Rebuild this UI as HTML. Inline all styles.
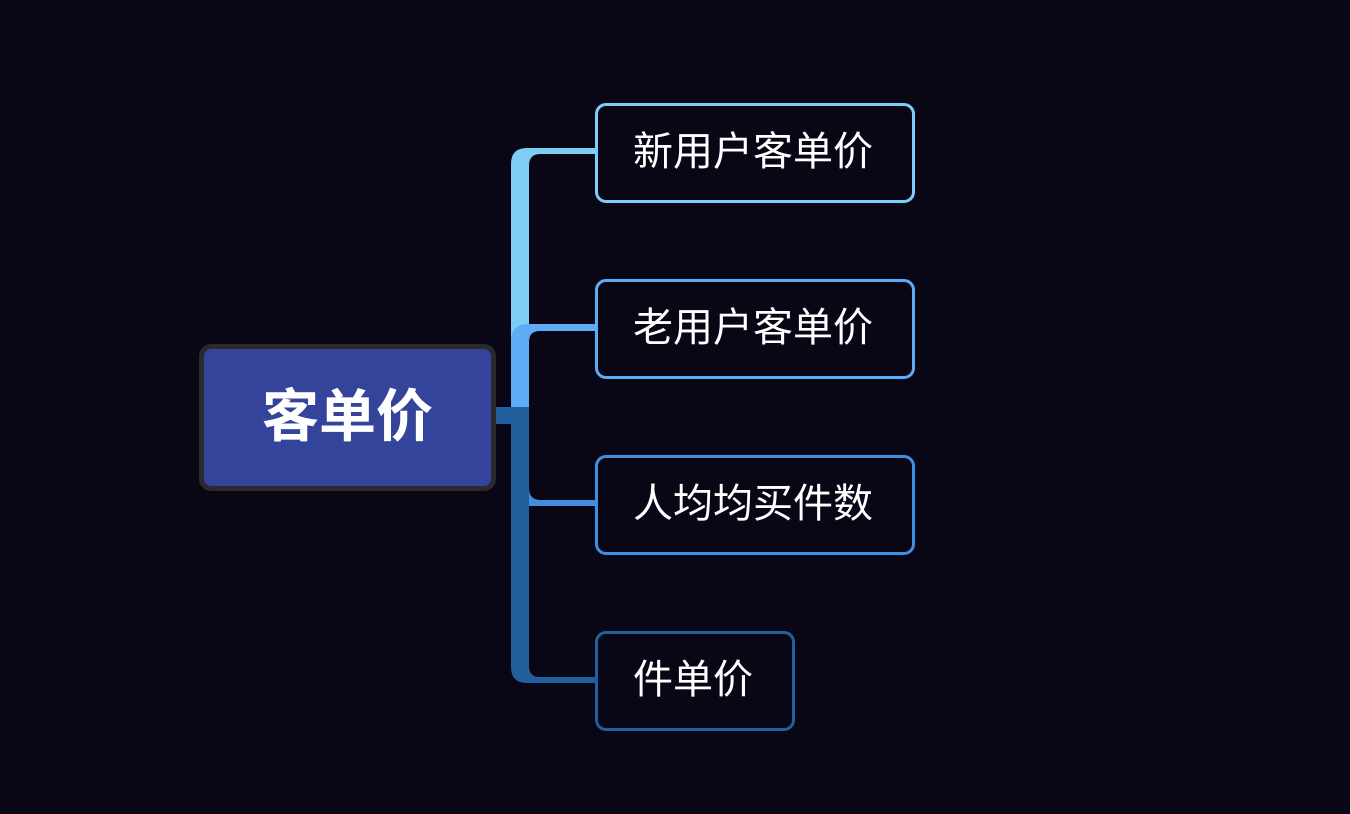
<!DOCTYPE html>
<html><head><meta charset="utf-8"><style>
html,body{margin:0;padding:0;background:#090616;}
body{width:1350px;height:814px;position:relative;overflow:hidden;font-family:"Liberation Sans","Noto Sans CJK SC",sans-serif;}
.n{position:absolute;box-sizing:border-box;border:3.5px solid;border-radius:11px;color:#fff;font-size:40px;line-height:92px;padding-left:35px;background:#090616;}
</style></head><body>
<svg width="1350" height="814" style="position:absolute;left:0;top:0">
<path d="M511,407 L511,164 Q511,148 527,148 L596,148 L596,154 L540,154 Q529,154 529,166 L529,407 Z" fill="#7ecdf7"/>
<path d="M511,407 L511,341 Q511,324 528,324 L596,324 L596,331 L540,331 Q529,331 529,342 L529,407 Z" fill="#5eacf5"/>
<path d="M511,407 L529,407 L529,666 Q529,677 540,677 L596,677 L596,683 L527,683 Q511,683 511,667 Z" fill="#235f9c"/>
<path d="M529,488 Q529,500 541,500 L596,500 L596,506 L529,506 Z" fill="#3f8ee0"/>
<rect x="495" y="407" width="17" height="17" fill="#235f9c"/>
</svg>
<div style="position:absolute;left:199px;top:344px;width:297px;height:147px;box-sizing:border-box;border:5px solid #2a2a2e;border-radius:12px;background:#33449a;color:#fff;font-weight:bold;font-size:57px;text-align:center;line-height:137px;">客单价</div>
<div class="n" style="left:595px;top:103px;width:320px;height:100px;border-color:#7ecdf7">新用户客单价</div>
<div class="n" style="left:595px;top:279px;width:320px;height:100px;border-color:#5eacf5">老用户客单价</div>
<div class="n" style="left:595px;top:455px;width:320px;height:100px;border-color:#3f8ee0">人均均买件数</div>
<div class="n" style="left:595px;top:631px;width:200px;height:100px;border-color:#235f9c">件单价</div>
</body></html>
